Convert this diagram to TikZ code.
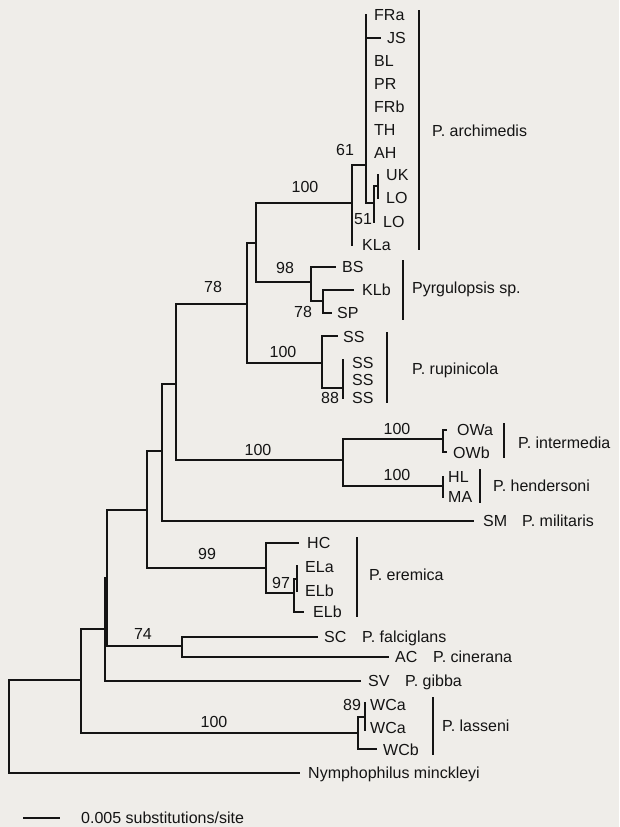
\documentclass[tikz,border=0pt]{standalone}
\usepackage{fontspec}
\setmainfont{Liberation Sans}
\definecolor{bg}{RGB}{239,237,233}
\definecolor{ink}{RGB}{20,20,20}
\begin{document}
\begin{tikzpicture}[x=1pt,y=-1pt,
  br/.style={draw=ink,line width=1.6pt,line cap=rect},
  bar/.style={draw=ink,line width=1.4pt},
  lab/.style={anchor=base west,inner sep=0pt,text=ink,font=\fontsize{16}{18}\selectfont,yshift=-5.7pt},
  bs/.style={anchor=base,inner sep=0pt,text=ink,font=\fontsize{16}{18}\selectfont,yshift=-5.7pt}]
\fill[bg] (0,0) rectangle (619,827);
\useasboundingbox (0,0) rectangle (619,827);
% ---- internal nodes
\coordinate (root) at (9,680);
\coordinate (N1) at (81,680);
\coordinate (N2) at (105,629);
\coordinate (N3) at (107,578);
\coordinate (N4) at (147,510);
\coordinate (N5) at (162,451);
\coordinate (N6) at (176,384);
\coordinate (N7) at (247,304);
\coordinate (N8) at (256,243);
\coordinate (A1) at (352,203);
\coordinate (A2) at (366,165);
\coordinate (A3) at (374,203);
\coordinate (A4) at (378,186);
\coordinate (P1) at (311,282);
\coordinate (P2) at (323,301);
\coordinate (R1) at (322,363);
\coordinate (R2) at (343,388);
\coordinate (IH) at (343,460);
\coordinate (I1) at (443,439);
\coordinate (H1) at (443,486);
\coordinate (E1) at (266,568);
\coordinate (E2) at (294,593);
\coordinate (E3) at (297,579);
\coordinate (C74) at (182,646);
\coordinate (L1) at (358,733);
\coordinate (L2) at (365,717);
% ---- leaf ends
\coordinate (tFRa) at (366,15);
\coordinate (tJS) at (380,38);
\coordinate (tBL) at (366,61);
\coordinate (tPR) at (366,84);
\coordinate (tFRb) at (366,107);
\coordinate (tTH) at (366,130);
\coordinate (tAH) at (366,153);
\coordinate (tUK) at (378,175);
\coordinate (tLOa) at (378,198);
\coordinate (tLOb) at (374,222);
\coordinate (tKLa) at (352,245);
\coordinate (tBS) at (335,267);
\coordinate (tKLb) at (353,290);
\coordinate (tSP) at (331,313);
\coordinate (tSS1) at (337,336);
\coordinate (tSS2) at (343,360);
\coordinate (tSS4) at (343,398);
\coordinate (tOWa) at (446,430);
\coordinate (tOWb) at (446,452);
\coordinate (tHL) at (443,477);
\coordinate (tMA) at (443,497);
\coordinate (tSM) at (473,521);
\coordinate (tHC) at (298,543);
\coordinate (tELa) at (297,566);
\coordinate (tELb) at (297,591);
\coordinate (tELc) at (303,612);
\coordinate (tSC) at (317,637);
\coordinate (tAC) at (388,657);
\coordinate (tSV) at (360,681);
\coordinate (tWCa) at (365,703);
\coordinate (tWCb) at (365,730);
\coordinate (tWCc) at (376,749);
\coordinate (tNym) at (299,773);
% ---- branches
\draw[br] (root) |- (N1);
\draw[br] (root) |- (tNym);
\draw[br] (N1) |- (N2);
\draw[br] (N1) |- (L1);
\draw[br] (N2) |- (N3);
\draw[br] (N2) |- (tSV);
\draw[br] (N3) |- (N4);
\draw[br] (N3) |- (C74);
\draw[br] (N4) |- (N5);
\draw[br] (N4) |- (E1);
\draw[br] (N5) |- (N6);
\draw[br] (N5) |- (tSM);
\draw[br] (N6) |- (N7);
\draw[br] (N6) |- (IH);
\draw[br] (N7) |- (N8);
\draw[br] (N7) |- (R1);
\draw[br] (N8) |- (A1);
\draw[br] (N8) |- (P1);
\draw[br] (A1) |- (A2);
\draw[br] (A1) -- (tKLa);
\draw[br] (A2) -- (tFRa);
\draw[br] (A2) |- (tJS);
\draw[br] (A2) |- (A3);
\draw[br] (A3) |- (A4);
\draw[br] (A3) -- (tLOb);
\draw[br] (A4) -- (tUK);
\draw[br] (A4) -- (tLOa);
\draw[br] (P1) |- (tBS);
\draw[br] (P1) |- (P2);
\draw[br] (P2) |- (tKLb);
\draw[br] (P2) |- (tSP);
\draw[br] (R1) |- (tSS1);
\draw[br] (R1) |- (R2);
\draw[br] (R2) -- (tSS2);
\draw[br] (R2) -- (tSS4);
\draw[br] (IH) |- (I1);
\draw[br] (IH) |- (H1);
\draw[br] (tOWa) -| (I1);
\draw[br] (tOWb) -| (I1);
\draw[br] (H1) -- (tHL);
\draw[br] (H1) -- (tMA);
\draw[br] (E1) |- (tHC);
\draw[br] (E1) |- (E2);
\draw[br] (E2) |- (E3);
\draw[br] (E2) |- (tELc);
\draw[br] (E3) -- (tELa);
\draw[br] (E3) -- (tELb);
\draw[br] (C74) |- (tSC);
\draw[br] (C74) |- (tAC);
\draw[br] (L1) |- (L2);
\draw[br] (L1) |- (tWCc);
\draw[br] (L2) -- (tWCa);
\draw[br] (L2) -- (tWCb);
% ---- leaf labels
\node[lab] (lFRa) at (374,15) {FRa};
\node[lab] (lJS) at (387,38) {JS};
\node[lab] (lBL) at (374,61) {BL};
\node[lab] (lPR) at (374,84) {PR};
\node[lab] (lFRb) at (374,107) {FRb};
\node[lab] (lTH) at (374,130) {TH};
\node[lab] (lAH) at (374,153) {AH};
\node[lab] (lUK) at (386,175) {UK};
\node[lab] (lLOa) at (386,198) {LO};
\node[lab] (lLOb) at (383,222) {LO};
\node[lab] (lKLa) at (362,245) {KLa};
\node[lab] (lBS) at (342,267) {BS};
\node[lab] (lKLb) at (362,290) {KLb};
\node[lab] (lSP) at (337,313) {SP};
\node[lab] (lSS1) at (343,337) {SS};
\node[lab] (lSS2) at (352,363) {SS};
\node[lab] (lSS3) at (352,380) {SS};
\node[lab] (lSS4) at (352,398) {SS};
\node[lab] (lOWa) at (457,430) {OWa};
\node[lab] (lOWb) at (453,453) {OWb};
\node[lab] (lHL) at (448,477) {HL};
\node[lab] (lMA) at (448,497) {MA};
\node[lab] (lSM) at (483,521) {SM};
\node[lab] (lHC) at (307,543) {HC};
\node[lab] (lELa) at (305,567) {ELa};
\node[lab] (lELb) at (305,591) {ELb};
\node[lab] (lELc) at (313,612) {ELb};
\node[lab] (lSC) at (324,637) {SC};
\node[lab] (lAC) at (395,657) {AC};
\node[lab] (lSV) at (368,681) {SV};
\node[lab] (lWCa) at (370,705) {WCa};
\node[lab] (lWCb) at (370,728) {WCa};
\node[lab] (lWCc) at (383,750) {WCb};
\node[lab] (lNym) at (308,773) {Nymphophilus minckleyi};
% ---- species names and bars
\draw[bar] (419,10) -- (419,250);
\node[lab] (sArch) at (432,131) {P. archimedis};
\draw[bar] (403,260) -- (403,320);
\node[lab] (sPyr) at (412,288) {Pyrgulopsis sp.};
\draw[bar] (387,332) -- (387,403);
\node[lab] (sRup) at (412,369) {P. rupinicola};
\draw[bar] (504,423) -- (504,458);
\node[lab] (sInt) at (518,443) {P. intermedia};
\draw[bar] (480,469) -- (480,503);
\node[lab] (sHen) at (493,486) {P. hendersoni};
\node[lab] (sMil) at (522,521) {P. militaris};
\draw[bar] (357,537) -- (357,617);
\node[lab] (sEre) at (369,575) {P. eremica};
\node[lab] (sFal) at (362,637) {P. falciglans};
\node[lab] (sCin) at (433,657) {P. cinerana};
\node[lab] (sGib) at (405,681) {P. gibba};
\draw[bar] (433,697) -- (433,755);
\node[lab] (sLas) at (442,726) {P. lasseni};
% ---- bootstrap values
\node[bs] (b1) at (305,187) {100};
\node[bs] (b2) at (345,150) {61};
\node[bs] (b3) at (363,219) {51};
\node[bs] (b4) at (285,268) {98};
\node[bs] (b5) at (303,312) {78};
\node[bs] (b6) at (213,287) {78};
\node[bs] (b7) at (283,352) {100};
\node[bs] (b8) at (330,398) {88};
\node[bs] (b9) at (258,450) {100};
\node[bs] (b10) at (397,429) {100};
\node[bs] (b11) at (397,475) {100};
\node[bs] (b12) at (207,554) {99};
\node[bs] (b13) at (281,583) {97};
\node[bs] (b14) at (143,634) {74};
\node[bs] (b15) at (352,705) {89};
\node[bs] (b16) at (214,722) {100};
% ---- scale bar
\coordinate (sb1) at (24,818);
\coordinate (sb2) at (59,818);
\draw[br] (sb1) -- (sb2);
\node[lab] (sbl) at (81,818) {0.005 substitutions/site};
\end{tikzpicture}
\end{document}
